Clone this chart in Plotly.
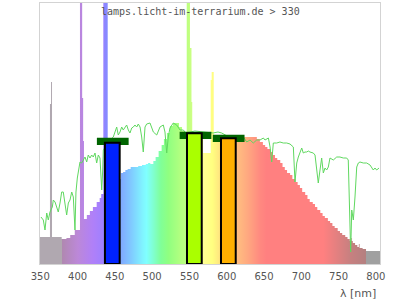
import plotly.graph_objects as go

# ---- lamp spectrum (wavelength nm, relative height) ----
spec_wl = [350, 363.2, 364.6, 365.9, 378.7, 385, 390, 396, 402.9, 405.8, 407.1, 408.2, 412, 416, 420, 425, 429, 431,
           433.8, 439.6, 457, 460, 463, 466, 470, 475, 480, 485, 490, 493, 496, 500, 503, 507, 511, 514, 518, 522,
           526, 530, 534, 538, 542, 544.2, 548.5, 550.5, 551.5, 565.6, 575.9, 577.2, 579.9, 610, 620, 630, 637,
           641, 645, 648, 651, 655, 658, 661, 664, 668, 671, 674, 677, 681, 684, 688, 691, 694, 697, 701, 704,
           707, 711, 714, 717, 721, 724, 727, 731, 734, 737, 740, 744, 747, 750, 754, 757, 760, 762, 763, 764,
           767, 770, 772, 773, 777, 781.5, 800]
spec_h = [27, 160, 182, 27, 25, 26, 29, 34, 300, 166, 123, 45, 49, 53, 57, 62, 66, 70,
          300, 85, 91, 92, 94, 95, 97, 97, 98, 99, 100, 101, 100, 103, 107, 113, 119, 125, 131, 138,
          141, 141, 137, 133, 131, 300, 216, 162, 125, 111, 184, 192, 125, 127, 127, 127, 125,
          122, 119, 117, 115, 112, 109, 106, 104, 101, 97, 94, 91, 89, 85, 82, 79, 76, 72, 69, 65,
          62, 60, 57, 54, 51, 48, 46, 43, 41, 38, 36, 33, 31, 29, 27, 25, 23, 26, 23, 21,
          19, 17, 20, 16, 15, 13, 13]

# ---- reference (sunlight) curve ----
sun_wl = [351.3, 354.4, 356.6, 358.9, 361, 363.2, 366.3, 367.6, 369.9, 372.1,
          374.2, 376.5, 378.7, 380.8, 383.1, 385.3, 387.5, 389.7, 392, 394.1,
          396.3, 397.6, 399.4, 401.6, 402.9, 405.2, 407.3, 409.6, 411.8, 413.9,
          416.2, 418.4, 420.5, 422.8, 425, 427.2, 429.4, 431.7, 433, 433.8,
          440, 447, 451.5, 453.6, 455.9, 458.1, 460.2, 462.5, 464.7, 466.9,
          469.1, 471.4, 473.5, 475.7, 478, 480.1, 482.4, 484.6, 486.7, 489,
          491.2, 495.6, 500, 504.5, 508.8, 513.2, 515.4, 517.7, 519.8, 522,
          526.4, 530.9, 535.3, 539.7, 543.2, 555, 566.1, 572.3, 579, 585.6,
          590.5, 600, 610, 620, 623.6, 628, 632.3, 636.8, 641.2, 645.6,
          647.8, 652.3, 654.5, 656.7, 658.8, 663.3, 667.6, 672, 676.5, 680.9,
          685.3, 687.5, 689.8, 691.9, 694.1, 696.4, 698.5, 700.7, 703, 705.1,
          707.3, 711.7, 714, 716.2, 718.3, 720.6, 722.8, 725, 727.2, 729.4,
          731.6, 733.8, 738.2, 742.7, 747, 751.4, 755.9, 758, 759.4, 761.2,
          762.6, 764.7, 766.9, 769.2, 771.3, 773.5, 777.9, 782.4, 786.8, 789,
          791.1, 793.4, 795.6, 798.7]
sun_h = [47, 44, 34, 51, 44, 52, 57, 64, 62, 56,
         52, 61, 72, 72, 57, 49, 61, 64, 72, 67,
         34, 72, 86, 97, 102, 101, 104, 107, 102, 109,
         106, 109, 107, 111, 101, 109, 106, 74, 94, 114,
         122, 127, 137, 129, 132, 137, 134, 136, 139, 134,
         131, 136, 137, 139, 137, 140, 137, 127, 112, 137,
         140, 141, 132, 129, 137, 139, 132, 111, 127, 136,
         141, 139, 134, 134, 131, 133, 132, 131.5, 131, 132,
         131, 127, 126, 126, 122, 124, 121, 124, 124, 126,
         124, 126, 117, 102, 121, 121, 122, 121, 121, 120,
         117, 82, 101, 107, 111, 116, 111, 112, 112, 113,
         112, 111, 109, 94, 81, 94, 106, 91, 96, 94,
         97, 106, 104, 107, 107, 106, 106, 104, 64, 12,
         54, 44, 67, 97, 101, 102, 101, 101, 99, 96,
         94, 96, 94, 96]

# ---- colour bands ----
band_wl = [445.7, 554.3, 599.3]
band_val = [121.3, 130.7, 125.7]
band_colors = ["#0022ff", "#aaff00", "#ffb000"]
cap_wl = [446.3, 555.8, 599.7]
cap_val = [122.7, 128.7, 125.7]

tick_vals = [350, 400, 450, 500, 550, 600, 650, 700, 750, 800]
title_text = "lamps.licht-im-terrarium.de > 330"
xlabel = "λ [nm]"

X0, X1 = 350, 800
Y1 = 261
stops = [(350, "#b0a8b0"), (378.7, "#b0a8b0"), (379.2, "#b088b0"), (400, "#bc88d8"),
         (420, "#b080f8"), (433, "#a080ff"), (437, "#8888ff"), (457, "#80a8ff"),
         (470, "#80c8ff"), (486, "#80f4ff"), (491, "#80ffff"), (500, "#80ffd0"),
         (510, "#80ff98"), (520, "#90ff80"), (535, "#b0ff80"), (547, "#c0ff80"),
         (566, "#ffff94"), (578, "#ffff80"), (590, "#ffe080"), (610, "#ffc080"),
         (625, "#ffa880"), (642, "#ff8880"), (650, "#ff8080"), (725, "#ff8080"),
         (760, "#c88080"), (781, "#b48080"), (781.6, "#a0a0a0"), (800, "#a0a0a0")]
colorscale = [[(w - X0) / (X1 - X0), c] for w, c in stops]

fig = go.Figure()
# main subplot: spectrum fill + sunlight curve
fig.add_trace(go.Scatter(
    x=spec_wl, y=spec_h, mode="lines", line=dict(width=0, shape="hv"),
    fill="tozeroy",
    fillgradient=dict(type="horizontal", colorscale=colorscale, start=X0, stop=X1),
    hoverinfo="skip", showlegend=False))
fig.add_trace(go.Scatter(
    x=sun_wl, y=sun_h, mode="lines", line=dict(color="#60d860", width=1),
    showlegend=False))
# tick-label axis (invisible anchor markers at the tick values)
fig.add_trace(go.Scatter(
    x=tick_vals, y=[0] * len(tick_vals), xaxis="x2", mode="markers",
    marker=dict(opacity=0), hoverinfo="skip", showlegend=False))
# overlay subplot drawn on top: caps + colour bands
fig.add_trace(go.Bar(
    x=cap_wl, y=[7.2] * 3, base=[v - 3.6 for v in cap_val], width=42, xaxis="x3", yaxis="y2",
    marker=dict(color="#006400", line=dict(width=0)), showlegend=False))
fig.add_trace(go.Bar(
    x=band_wl, y=band_val, width=19.5, xaxis="x3", yaxis="y2",
    marker=dict(color=band_colors, line=dict(color="black", width=2)), showlegend=False))

fig.update_layout(
    width=400, height=300, margin=dict(l=40, r=20, t=3, b=36),
    paper_bgcolor="white", plot_bgcolor="white", barmode="overlay",
    xaxis=dict(range=[X0, X1], showline=True, mirror=True, linecolor="#d3d3d3", linewidth=1,
               showticklabels=False, showgrid=False, zeroline=False, ticks=""),
    xaxis2=dict(overlaying="x", side="bottom", range=[349.6, 805.5], tickvals=tick_vals,
                showline=False, showgrid=False, zeroline=False, ticks="outside", ticklen=3,
                tickcolor="rgba(0,0,0,0)",
                tickfont=dict(family="DejaVu Sans", size=10, color="#555")),
    xaxis3=dict(overlaying="x", range=[X0, X1], visible=False),
    yaxis=dict(range=[0, Y1], showline=True, mirror=True, linecolor="#d3d3d3", linewidth=1,
               showticklabels=False, showgrid=False, zeroline=False, ticks=""),
    yaxis2=dict(overlaying="y", range=[0, Y1], visible=False),
    annotations=[
        dict(text=title_text, xref="paper", yref="paper", x=0.4735, y=1, yshift=-8,
             xanchor="center", yanchor="middle", showarrow=False,
             font=dict(family="DejaVu Sans Mono", size=10, color="#555")),
        dict(text=xlabel, xref="paper", yref="paper", x=1, y=0, xshift=-2, yshift=-29,
             xanchor="right", yanchor="middle", showarrow=False,
             font=dict(family="DejaVu Sans", size=11, color="#555")),
    ],
)
fig.write_html("out.html")
